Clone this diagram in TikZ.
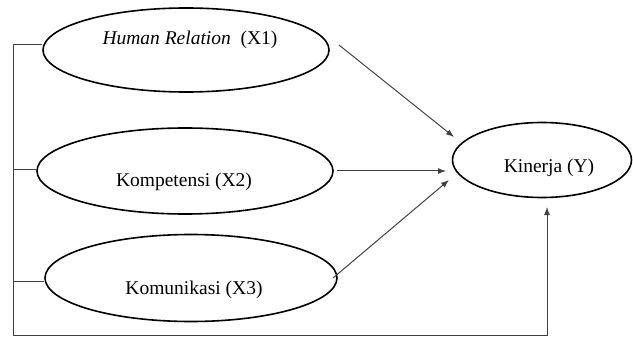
\documentclass[tikz,border=0pt]{standalone}
\usepackage{fontspec}
\setmainfont{Liberation Serif}
\usetikzlibrary{shapes.geometric,arrows.meta}
\begin{document}
\begin{tikzpicture}[x=1pt,y=-1pt,
  var/.style={draw=black,line width=1.6pt,ellipse,inner sep=0pt},
  lbl/.style={font=\fontsize{19.5}{22}\selectfont,inner sep=0pt},
  conn/.style={draw=black!75,line width=1pt},
  arr/.style={conn,-{Latex[length=8pt,width=6pt]}}]
\useasboundingbox (0,0) rectangle (633,337);
% ellipses
\node[var,minimum width=286pt,minimum height=84pt] (x1) at (186,50) {};
\node[var,minimum width=296pt,minimum height=86pt] (x2) at (185,171) {};
\node[var,minimum width=292pt,minimum height=87pt] (x3) at (191,278) {};
\node[var,minimum width=179pt,minimum height=75pt] (y) at (542,160) {};
% labels
\node[lbl] (t1) at (190,40) {\textit{Human Relation}\ \ (X1)};
\node[lbl] (t2) at (184,182) {Kompetensi (X2)};
\node[lbl] (t3) at (194,290) {Komunikasi (X3)};
\node[lbl] (ty) at (549,168) {Kinerja (Y)};
% coordinates
\coordinate (a1) at (339,45);
\coordinate (b1) at (454,137);
\coordinate (a2) at (337,171);
\coordinate (b2) at (446,171);
\coordinate (a3) at (333,278);
\coordinate (b3) at (449,180);
\coordinate (l1) at (13,45);
\coordinate (l2) at (13,170);
\coordinate (l3) at (13,281);
\coordinate (lb) at (13,335.5);
\coordinate (rb) at (547,335.5);
\coordinate (yt) at (547,207);
% connectors
\draw[arr] (a1) -- (b1);
\draw[arr] (a2) -- (b2);
\draw[arr] (a3) -- (b3);
\draw[conn] (x1.west |- l1) -- (l1) -- (lb) -- (rb);
\draw[arr] (rb) -- (yt);
\draw[conn] (l2) -- (x2.west |- l2);
\draw[conn] (l3) -- (x3.west |- l3);
\end{tikzpicture}
\end{document}
